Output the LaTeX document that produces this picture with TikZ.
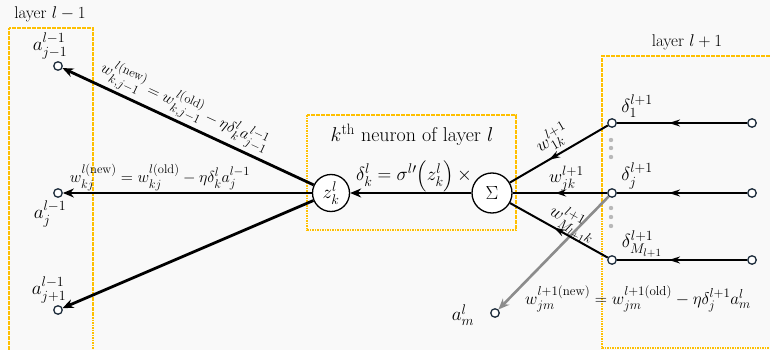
\RequirePackage{fix-cm}
\documentclass[tikz,border=0pt]{standalone}
\usepackage{amsmath}
\usepackage{fontspec}
\usetikzlibrary{arrows.meta,decorations.markings}
\DeclareMathSizes{16}{16}{12.5}{9.5}
\DeclareMathSizes{17}{17}{13}{10}
\DeclareMathSizes{18}{18}{13.5}{10.5}
\DeclareMathSizes{19}{19}{14}{11}
\DeclareMathSizes{20}{20}{15}{11}
\definecolor{gold}{RGB}{255,192,0}
\definecolor{bg}{RGB}{249,249,249}
\definecolor{navy}{RGB}{30,45,60}
\definecolor{grayln}{RGB}{140,140,140}
\definecolor{dotgray}{RGB}{185,185,185}
\begin{document}
\begin{tikzpicture}[x=1pt,y=-1pt,
 goldbox/.style={draw=gold, line width=2pt, dash pattern=on 1.6pt off 0.9pt},
 port/.style={circle, draw=navy, fill=white, line width=1.3pt, inner sep=0pt, minimum size=8.5pt},
 neuron/.style={circle, draw=black, fill=white, line width=1.3pt, inner sep=0pt, font=\fontsize{19}{22}\selectfont},
 thickarrow/.style={line width=2.8pt, -{Stealth[length=11pt,width=9pt]}},
 grayarrow/.style={draw=grayln, line width=2.6pt, -{Stealth[length=11pt,width=9pt]}},
 midarrow/.style={line width=2pt, postaction={decorate}, decoration={markings, mark=at position #1 with {\arrow{Stealth[length=11pt,width=7pt]}}}},
 ttl/.style={font=\fontsize{17}{20}\selectfont, inner sep=1pt},
 lab/.style={font=\fontsize{19}{22}\selectfont, inner sep=1pt},
 frm/.style={font=\fontsize{16}{19}\selectfont, inner sep=2pt},
 gfrm/.style={font=\fontsize{17}{20}\selectfont, inner sep=2pt},
 wlab/.style={font=\fontsize{18}{21}\selectfont, inner sep=2pt}
]
\clip (0,0) rectangle (770,350);
\fill[bg] (0,0) rectangle (770,350);

% boxes
\draw[goldbox] (9,360) -- (9,28) -- (93,28) -- (93,360);
\draw[goldbox] (307,115) rectangle (516,230);
\draw[goldbox] (790,56) -- (602,56) -- (602,348) -- (790,348);

% titles
\node[ttl] (t1) at (50,14) {layer $l-1$};
\node[ttl] (t2) at (687,42) {layer $l+1$};
\node[ttl, font=\fontsize{20}{23}\selectfont] (t3) at (412,135) {$k^{\mathrm{th}}$ neuron of layer $l$};

% nodes
\node[port] (a1) at (58,66) {};
\node[port] (a2) at (58,193) {};
\node[port] (a3) at (58,310) {};
\node[neuron, minimum size=37pt] (z) at (331,193) {$z_k^l$};
\node[neuron, minimum size=40pt] (S) at (492,193) {$\Sigma$};
\node[port] (d1) at (612,123) {};
\node[port] (d2) at (612,193) {};
\node[port] (d3) at (612,260) {};
\node[port] (e1) at (752,123) {};
\node[port] (e2) at (752,193) {};
\node[port] (e3) at (752,260) {};
\node[port] (am) at (495,313) {};

% labels of ports
\node[lab] (la1) at (50,46) {$a_{j-1}^{l-1}$};
\node[lab] (la2) at (50,214) {$a_{j}^{l-1}$};
\node[lab] (la3) at (49,290) {$a_{j+1}^{l-1}$};
\node[lab] (lam) at (463,315) {$a_{m}^{l}$};
\node[lab] (ld1) at (637,106) {$\delta_{1}^{l+1}$};
\node[lab] (ld2) at (637,176) {$\delta_{j}^{l+1}$};
\node[lab] (ld3) at (642,244) {$\delta_{M_{l+1}}^{l+1}$};

% vertical dots
\foreach \yy in {140,148,157,208,217,226} \fill[dotgray] (611,\yy) circle (2.2);

% gray update arrow
\draw[grayarrow] (d2) -- (am);
\node[gfrm] (fg) at (638,299) {$w_{jm}^{l+1(\mathrm{new})} = w_{jm}^{l+1(\mathrm{old})} - \eta\delta_j^{l+1}a_m^l$};

% right inputs
\draw[midarrow=0.6] (e1) -- (d1);
\draw[midarrow=0.6] (e2) -- (d2);
\draw[midarrow=0.6] (e3) -- (d3);
\draw[midarrow=0.6] (d1) -- (S);
\draw[midarrow=0.55] (d2) -- (S);
\draw[midarrow=0.55] (d3) -- (S);
\path (S) -- (d1) node[wlab, pos=0.52, sloped, above=3pt] {$w_{1k}^{l+1}$};
\path (S) -- (d2) node[wlab, pos=0.57, above=0pt] {$w_{jk}^{l+1}$};
\path (S) -- (d3) node[wlab, pos=0.58, sloped, above=-3pt] {$w_{M_{l+1}k}^{l+1}$};

% core
\draw[thickarrow] (S) -- (z);
\node[lab] (fd) at (414,176) {$\delta_k^l = \sigma^{l\prime}\!\left(z_k^l\right)\times$};
\draw[thickarrow] (z) -- (a1);
\draw[thickarrow] (z) -- (a2);
\draw[thickarrow] (z) -- (a3);
\path (a1) -- (z) node[frm, pos=0.46, sloped, above=2pt] {$w_{k,j-1}^{l(\mathrm{new})} = w_{k,j-1}^{l(\mathrm{old})} - \eta\delta_k^l a_{j-1}^{l-1}$};
\path (a2) -- (z) node[frm, pos=0.39, above=0pt] {$w_{kj}^{l(\mathrm{new})} = w_{kj}^{l(\mathrm{old})} - \eta\delta_k^l a_{j}^{l-1}$};
\end{tikzpicture}
\end{document}
